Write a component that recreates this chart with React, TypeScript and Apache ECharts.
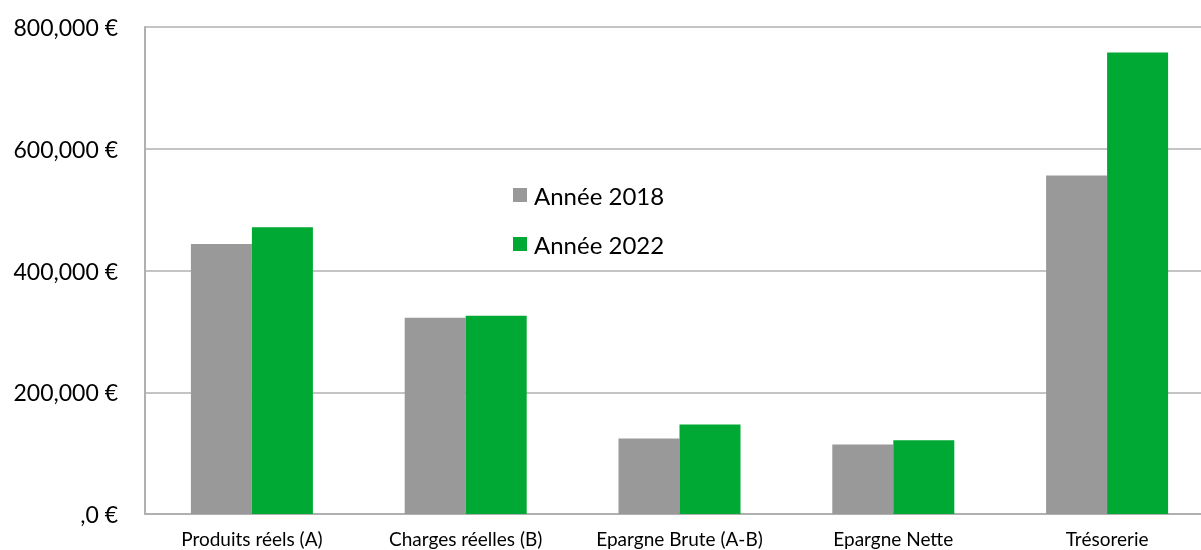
import React, { useEffect, useRef } from "react";
import * as echarts from "echarts";

const categories = [
  "Produits réels (A)",
  "Charges réelles (B)",
  "Epargne Brute (A-B)",
  "Epargne Nette",
  "Trésorerie",
];
const values2018 = [443500, 322500, 124000, 114000, 556000];
const values2022 = [471000, 325800, 147000, 121000, 758000];
const seriesNames = ["Année 2018", "Année 2022"];
const yTicks = [0, 200000, 400000, 600000, 800000];

const fmt = (v: number) => {
  if (v === 0) return ",0 €";
  return v.toLocaleString("en-US") + " €";
};

export default function App() {
  const ref = useRef<HTMLDivElement>(null);
  useEffect(() => {
    if (!ref.current) return;
    const chart = echarts.init(ref.current, null, { renderer: "svg" });
    const font = "Lato, 'Open Sans', sans-serif";
    chart.setOption({
      animation: false,
      textStyle: { fontFamily: font },
      grid: {
        left: 145,
        top: 27,
        width: 1069,
        height: 487,
        containLabel: false,
        outerBoundsMode: "none",
      },
      legend: {
        orient: "vertical",
        left: 513,
        top: 183,
        padding: 0,
        itemWidth: 14,
        itemHeight: 14,
        itemGap: 25,
        icon: "rect",
        data: seriesNames,
        textStyle: { fontSize: 24, color: "#000", fontFamily: font, padding: [0, 0, 0, 2] },
      },
      xAxis: {
        type: "category",
        data: categories,
        axisLine: { show: true, lineStyle: { color: "#b0b0b0", width: 2 } },
        axisTick: { show: false },
        axisLabel: {
          interval: 0,
          hideOverlap: false,
          fontSize: 19,
          lineHeight: 19,
          color: "#000",
          margin: 15,
          fontFamily: font,
        },
      },
      yAxis: {
        type: "value",
        min: yTicks[0],
        max: yTicks[yTicks.length - 1],
        interval: 200000,
        axisLine: { show: true, lineStyle: { color: "#b0b0b0", width: 2 } },
        axisTick: { show: false },
        splitLine: { show: true, lineStyle: { color: "#c4c4c4", width: 2 } },
        axisLabel: {
          fontSize: 23,
          color: "#000",
          margin: 27,
          fontFamily: font,
          formatter: (v: number) => fmt(v),
        },
      },
      series: [
        {
          name: seriesNames[0],
          type: "bar",
          data: values2018,
          barWidth: 61,
          barGap: "0%",
          itemStyle: { color: "#999999" },
        },
        {
          name: seriesNames[1],
          type: "bar",
          data: values2022,
          barWidth: 61,
          barGap: "0%",
          itemStyle: { color: "#00a933" },
        },
      ],
    });
    return () => chart.dispose();
  }, []);
  return (
    <div
      ref={ref}
      style={{ position: "fixed", left: 0, top: 0, width: 1201, height: 550 }}
    />
  );
}
